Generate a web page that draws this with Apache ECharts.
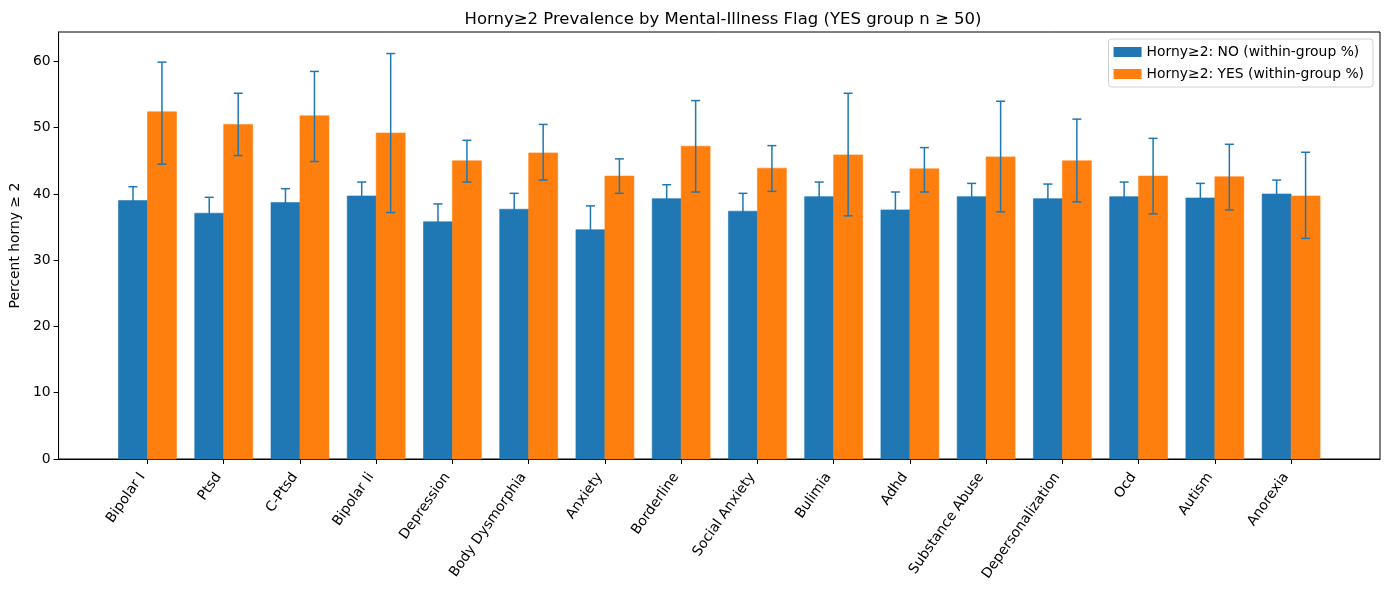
<!DOCTYPE html>
<html><head><meta charset="utf-8">
<script src="https://cdn.jsdelivr.net/npm/echarts@6/dist/echarts.min.js"></script>
<style>html,body{margin:0;padding:0;background:#fff}#c{width:1389px;height:590px}</style>
</head><body><div id="c"></div>
<script>
const categories = ["Bipolar I","Ptsd","C-Ptsd","Bipolar Ii","Depression","Body Dysmorphia","Anxiety","Borderline","Social Anxiety","Bulimia","Adhd","Substance Abuse","Depersonalization","Ocd","Autism","Anorexia"];
const noValues = [39.0,37.1,38.7,39.7,35.8,37.7,34.6,39.3,37.4,39.6,37.6,39.6,39.3,39.6,39.4,40.0];
const noUpper  = [41.1,39.5,40.8,41.8,38.5,40.1,38.2,41.4,40.1,41.8,40.3,41.6,41.5,41.8,41.6,42.1];
const noLower  = [36.9,34.8,36.6,37.6,33.1,35.3,31.0,37.2,34.7,37.4,34.9,37.6,37.1,37.4,37.2,37.9];
const yesValues = [52.4,50.5,51.8,49.2,45.0,46.2,42.7,47.2,43.9,45.9,43.8,45.6,45.0,42.7,42.6,39.7];
const yesUpper  = [59.9,55.2,58.5,61.2,48.1,50.5,45.3,54.1,47.3,55.2,47.0,54.0,51.3,48.4,47.5,46.3];
const yesLower  = [44.5,45.8,44.9,37.2,41.8,42.1,40.1,40.3,40.4,36.7,40.3,37.3,38.8,37.0,37.6,33.3];
const yTicks = [0,10,20,30,40,50,60];
const xTicks = categories.map((c, i) => i);

const FONT = 'DejaVu Sans';
const BLUE = '#1f77b4', ORANGE = '#ff7f0e';
const HALF = 0.19;

function barItem(offset) {
  return function (params, api) {
    const i = api.value(0), v = api.value(1);
    const p0 = api.coord([i + offset - HALF, v]);
    const p1 = api.coord([i + offset + HALF, 0]);
    const col = api.visual('color');
    return { type: 'rect', shape: { x: p0[0], y: p0[1], width: p1[0] - p0[0], height: p1[1] - p0[1] },
             style: { fill: col, stroke: col, lineWidth: 0.6 } };
  };
}
function errItem(offset) {
  return function (params, api) {
    const i = api.value(0);
    const lo = api.coord([i + offset, api.value(1)]);
    const hi = api.coord([i + offset, api.value(2)]);
    const c = 4.5;
    const st = { stroke: BLUE, lineWidth: 1.5 };
    return { type: 'group', children: [
      { type: 'line', shape: { x1: lo[0], y1: lo[1], x2: hi[0], y2: hi[1] }, style: st },
      { type: 'line', shape: { x1: lo[0] - c, y1: lo[1], x2: lo[0] + c, y2: lo[1] }, style: st },
      { type: 'line', shape: { x1: hi[0] - c, y1: hi[1], x2: hi[0] + c, y2: hi[1] }, style: st }
    ] };
  };
}

const chart = echarts.init(document.getElementById('c'), null, { renderer: 'canvas' });
chart.setOption({
  animation: false,
  backgroundColor: '#fff',
  textStyle: { fontFamily: FONT },
  title: {
    text: 'Horny\u22652 Prevalence by Mental-Illness Flag (YES group n \u2265 50)',
    left: 718, top: 6, textAlign: 'center',
    textStyle: { fontFamily: FONT, fontSize: 16.5, fontWeight: 'normal', color: '#000' }
  },
  legend: {
    orient: 'vertical', right: 16, top: 39,
    data: ['Horny\u22652: NO (within-group %)', 'Horny\u22652: YES (within-group %)'],
    icon: 'rect', itemWidth: 28, itemHeight: 10, itemGap: 6,
    padding: [5, 9, 5, 5],
    borderColor: '#d0d0d0', borderWidth: 1, borderRadius: 3, backgroundColor: '#fff',
    textStyle: { fontFamily: FONT, fontSize: 13.9, color: '#000', lineHeight: 16 }
  },
  grid: { left: 56.5, right: 9, top: 32, bottom: 131, show: true, borderColor: '#000', borderWidth: 1, backgroundColor: 'transparent' },
  xAxis: {
    type: 'value', min: -1.166, max: 16.166,
    splitLine: { show: false },
    axisLine: { show: true, onZero: false, lineStyle: { color: '#000', width: 1 } },
    axisTick: { show: true, inside: false, length: 5, customValues: xTicks, lineStyle: { color: '#000' } },
    axisLabel: { customValues: xTicks, rotate: 55, margin: 8, padding: [0, 9, 3, 0], color: '#000', fontFamily: FONT, fontSize: 13.9,
                 formatter: v => categories[Math.round(v)] }
  },
  yAxis: {
    type: 'value', min: 0, max: 64.45,
    name: 'Percent horny \u2265 2', nameLocation: 'middle', nameGap: 36,
    nameTextStyle: { fontFamily: FONT, fontSize: 13.9, color: '#000' },
    splitLine: { show: false },
    axisLine: { show: true, onZero: false, lineStyle: { color: '#000', width: 1 } },
    axisTick: { show: true, inside: false, length: 5, customValues: yTicks, lineStyle: { color: '#000' } },
    axisLabel: { customValues: yTicks, margin: 8, color: '#000', fontFamily: FONT, fontSize: 13.9 }
  },
  series: [
    { name: 'Horny\u22652: NO (within-group %)', type: 'custom', renderItem: barItem(-HALF),
      itemStyle: { color: BLUE }, encode: { x: 0, y: 1 }, z: 2,
      data: noValues.map((v, i) => [i, v]) },
    { name: 'Horny\u22652: YES (within-group %)', type: 'custom', renderItem: barItem(HALF),
      itemStyle: { color: ORANGE }, encode: { x: 0, y: 1 }, z: 2,
      data: yesValues.map((v, i) => [i, v]) },
    { name: 'errNo', type: 'custom', renderItem: errItem(-HALF), encode: { x: 0, y: [1, 2] }, z: 5,
      data: noLower.map((v, i) => [i, v, noUpper[i]]) },
    { name: 'errYes', type: 'custom', renderItem: errItem(HALF), encode: { x: 0, y: [1, 2] }, z: 5,
      data: yesLower.map((v, i) => [i, v, yesUpper[i]]) }
  ]
});
</script>
</body></html>
